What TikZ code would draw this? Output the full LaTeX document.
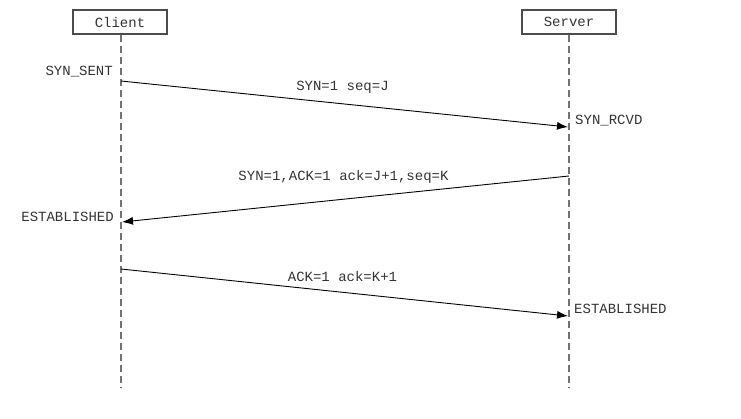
\documentclass[tikz,border=0pt]{standalone}
\usepackage{fontspec}
\setmonofont{Liberation Mono}
\usepackage{tikz}
\usetikzlibrary{positioning,arrows.meta}

\begin{document}
\begin{tikzpicture}[x=1pt,y=-1pt,>={Latex[length=11pt,width=8pt]},
                    font=\ttfamily\fontsize{14}{16}\selectfont]
  \tikzstyle{actor}=[draw=black!70,line width=1.2pt,minimum width=94pt,
                     minimum height=24pt,inner sep=0pt,text=black!80]
  \tikzstyle{lifeline}=[draw=black!55,line width=1.3pt,dash pattern=on 7pt off 4pt]
  \tikzstyle{msg}=[->,black,line width=0.9pt]
  \tikzstyle{state}=[text=black!80,inner sep=1pt]

  \useasboundingbox (0,0) rectangle (741,418);

  \node[actor] (client) at (120,22) {Client};
  \node[actor] (server) at (569,22) {Server};

  \coordinate (cend) at (121,388);
  \coordinate (send) at (569,388);
  \draw[lifeline] (client.south -| cend) -- (cend);
  \draw[lifeline] (server.south) -- (send);

  % message end points on the lifelines
  \coordinate (c1) at (121,81);
  \coordinate (s1) at (568,127);
  \coordinate (s2) at (569,176);
  \coordinate (c2) at (122,222);
  \coordinate (c3) at (121,269);
  \coordinate (s3) at (568,316);

  \node[state] (synsent) [anchor=east]  at (114,72)  {SYN\_SENT};
  \node[state] (synrcvd) [anchor=west]  at (574,121) {SYN\_RCVD};
  \node[state] (estc)    [anchor=east]  at (115,217) {ESTABLISHED};
  \node[state] (ests)    [anchor=west]  at (573,309) {ESTABLISHED};

  \draw[msg] (c1) -- node[state,above=9pt,xshift=-2pt] (syn) {SYN=1 seq=J} (s1);
  \draw[msg] (s2) -- node[state,above=14pt,xshift=-2pt] (synack) {SYN=1,ACK=1 ack=J+1,seq=K} (c2);
  \draw[msg] (c3) -- node[state,above=9pt,xshift=-2pt] (ack) {ACK=1 ack=K+1} (s3);
\end{tikzpicture}
\end{document}
